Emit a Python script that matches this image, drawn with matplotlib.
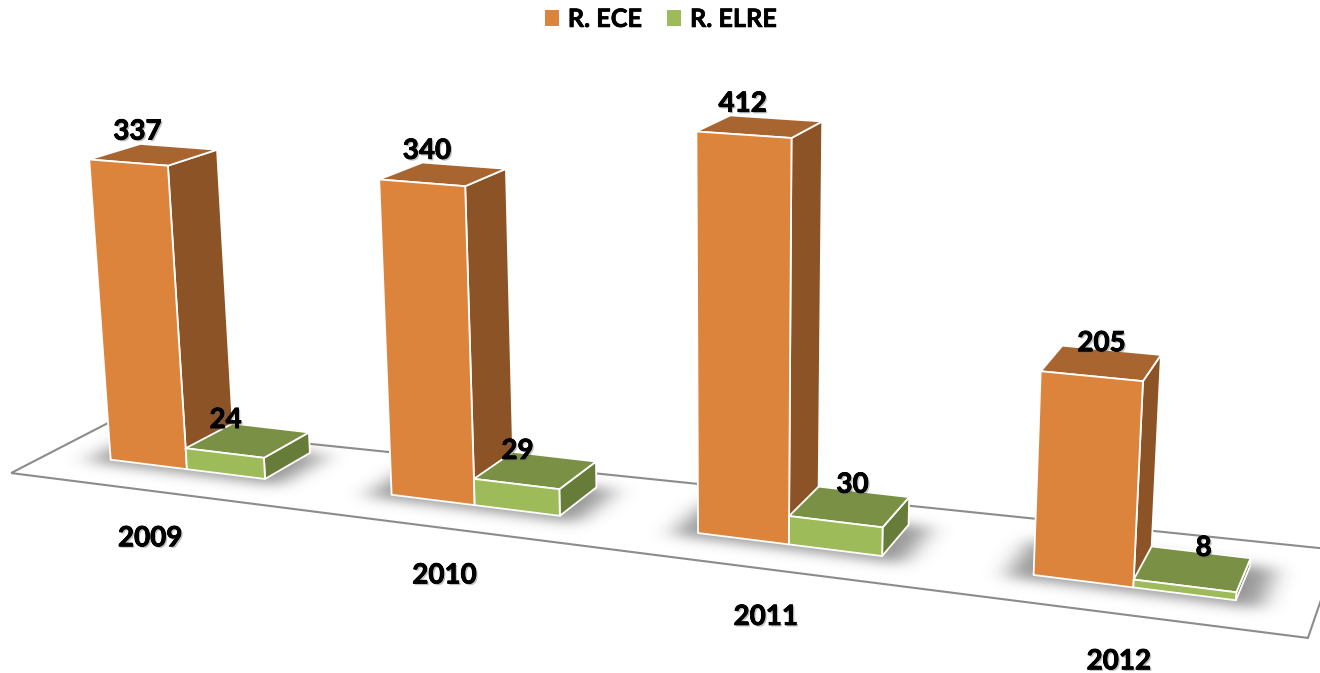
import numpy as np
import matplotlib
matplotlib.use("Agg")
import matplotlib.pyplot as plt
from matplotlib.patches import Polygon, Patch
from matplotlib.path import Path
import matplotlib.patheffects as pe

YEARS = ["2009", "2010", "2011", "2012"]
ECE = [337, 340, 412, 205]
ELRE = [24, 29, 30, 8]
SERIES = ["R. ECE", "R. ELRE"]

# Perspective camera: (category position, depth, value/400, 1) -> pixel
P = np.array([[270.2620543601071, 153.834757503738, -29.58490429929393, 4.344985217137708],
              [14.825201123895232, -29.00880462320684, -370.32309925681994, 475.4628084430275],
              [-0.04247573604188351, 0.0954637153308003, -0.040345765462235235, 1.0]])
A_GAP = 0.22
W_BAR = (1 - 2 * A_GAP) / 2
D0, D1 = 0.32, 0.68
FLOOR_WORLD = [(0.005, 0.035), (-0.014, 0.749), (4.001, 0.96), (3.996, 0.056)]


def project(x, d, z):
    h = P @ np.array([x, d, z / 400, 1.0])
    return h[:2] / h[2]


plt.rcParams['font.family'] = ['Lato', 'DejaVu Sans']
fig = plt.figure(figsize=(13.2, 6.73), dpi=100)
ax = fig.add_axes([0, 0, 1, 1])
ax.set_xlim(0, 1320)
ax.set_ylim(673, 0)
ax.axis('off')

ax.add_patch(Polygon([project(x, d, 0) for x, d in FLOOR_WORLD], closed=True,
                     fc='none', ec='#8c8c8c', lw=1.5, zorder=1.7))

# soft floor shadows under each pair of bars
yy, xx = np.mgrid[0:673, 0:1320]
pts = np.c_[xx.ravel() + .5, yy.ravel() + .5]
mask = np.zeros((673, 1320))
for i in range(len(YEARS)):
    x0 = i + A_GAP - 0.07
    x1 = i + A_GAP + 2 * W_BAR + 0.07
    poly = [project(x0, D0 - 0.05, 0), project(x0, D1, 0), project(x1, D1, 0),
            project(x1, D0 - 0.05, 0), project(x0, D0 - 0.05, 0)]
    mask += Path(poly).contains_points(pts).reshape(mask.shape)
t = np.arange(-36, 37)


def blur(m, sig, axis):
    k = np.exp(-t ** 2 / (2 * sig ** 2))
    k /= k.sum()
    return np.apply_along_axis(lambda r: np.convolve(r, k, mode='same'), axis, m)


mask = blur(blur(mask, 12, 1), 6, 0)
rgba = np.zeros((673, 1320, 4))
rgba[..., :3] = 0.30
rgba[..., 3] = mask * 0.58
ax.imshow(rgba, extent=(0, 1320, 673, 0), zorder=1.5, aspect='auto', interpolation='bilinear')

COL = [('#DD843C', '#8C5426', '#A86530'), ('#9DBB59', '#677C38', '#7A9145')]
edge = dict(ec='white', lw=1.3, joinstyle='round')
z = 2


def box(s, i, v):
    global z
    xl = i + A_GAP + s * W_BAR
    xr = xl + W_BAR
    front, side, top = COL[s]
    ax.add_patch(Polygon([project(xr, D0, 0), project(xr, D1, 0), project(xr, D1, v), project(xr, D0, v)],
                         fc=side, zorder=z, **edge))
    ax.add_patch(Polygon([project(xl, D0, v), project(xr, D0, v), project(xr, D1, v), project(xl, D1, v)],
                         fc=top, zorder=z + .1, **edge))
    ax.add_patch(Polygon([project(xl, D0, 0), project(xr, D0, 0), project(xr, D0, v), project(xl, D0, v)],
                         fc=front, zorder=z + .2, **edge))
    z += 1


for i in range(len(YEARS)):
    box(0, i, ECE[i])
    box(1, i, ELRE[i])

shadow = [pe.withSimplePatchShadow(offset=(1.2, -1.2), shadow_rgbFace='#666666', alpha=0.4),
          pe.withStroke(linewidth=0.6, foreground='black')]
tk = dict(fontweight='bold', ha='center', va='center', color='black', zorder=50, path_effects=shadow)
NUDGE_ECE = [(9, -31), (5, -32), (-1, -31), (10, -33)]
NUDGE_ELRE = [(1, -33), (1, -33), (17, -37), (19, -38)]
NUDGE_CAT = [(83, 4), (70, -1), (53, -6), (32, -13)]
for i in range(len(YEARS)):
    for s, (vals, nd) in enumerate([(ECE, NUDGE_ECE), (ELRE, NUDGE_ELRE)]):
        p = project(i + A_GAP + (s + .5) * W_BAR, D0, vals[i])
        ax.text(p[0] + nd[i][0], p[1] + nd[i][1], str(vals[i]), fontsize=20, **tk)
    q = project(i + .5, -0.5, 0)
    ax.text(q[0] + NUDGE_CAT[i][0], q[1] + NUDGE_CAT[i][1], YEARS[i], fontsize=20, **tk)

leg = ax.legend(handles=[Patch(fc=COL[0][0], lw=0, label=SERIES[0]), Patch(fc=COL[1][0], lw=0, label=SERIES[1])],
                ncol=2, loc='upper center', bbox_to_anchor=(0.5008, 1.022), frameon=False,
                prop=dict(family='Lato', weight='bold', size=18.2),
                handlelength=0.545, handleheight=0.545, columnspacing=1.0, handletextpad=0.35)
for tx in leg.get_texts():
    tx.set_path_effects([pe.withStroke(linewidth=0.5, foreground='black')])
fig.savefig('out.png', dpi=100)
